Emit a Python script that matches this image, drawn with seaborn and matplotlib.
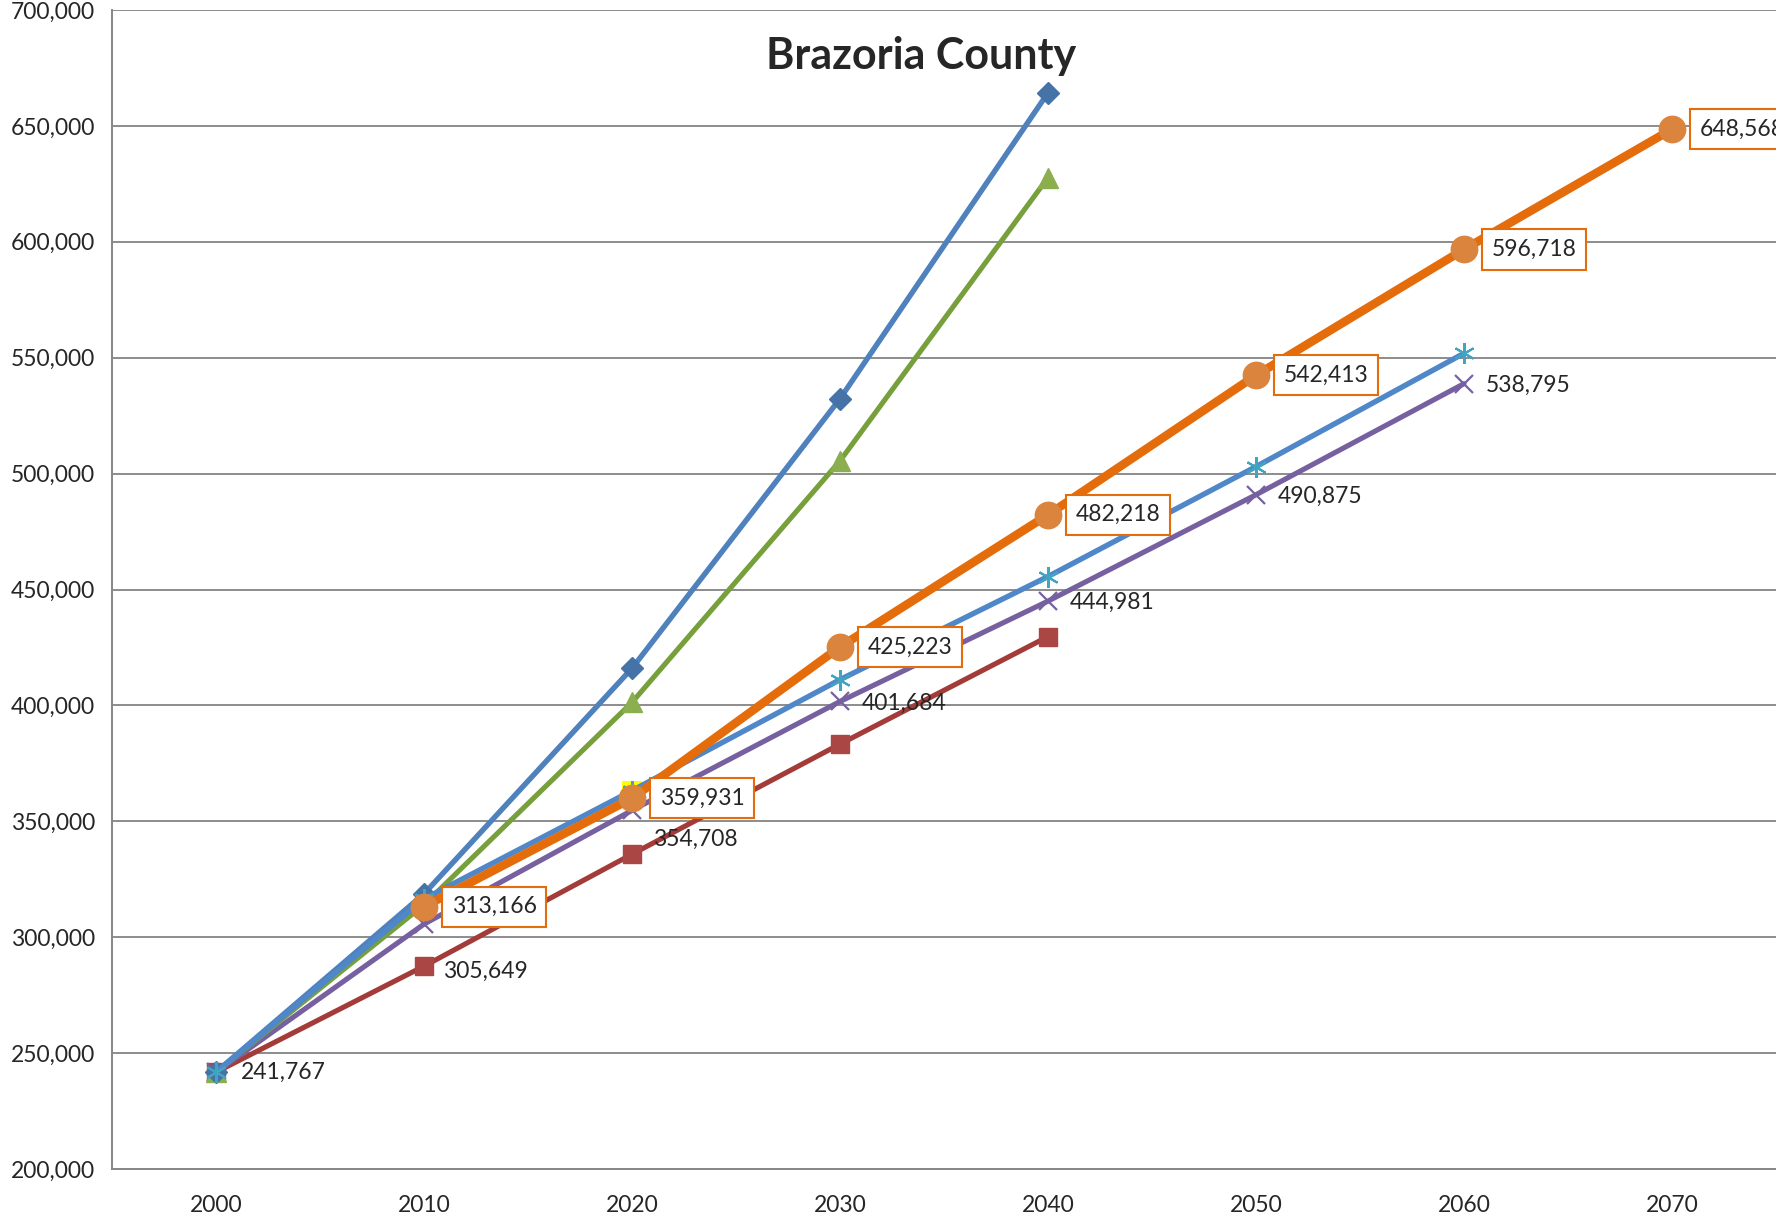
import numpy as np
import pandas as pd
import matplotlib
matplotlib.use("Agg")
import matplotlib.pyplot as plt
import seaborn as sns

years = [2000, 2010, 2020, 2030, 2040, 2050, 2060, 2070]
blue_vals = [241767, 318700, 416000, 532300, 664300]
green_vals = [241767, 314000, 401300, 505500, 627700]
red_vals = [241767, 287500, 335800, 383300, 429700]
purple_vals = [241767, 305649, 354708, 401684, 444981, 490875, 538795]
teal_vals = [241767, 316500, 363200, 411100, 455600, 503000, 551900]
orange_vals = [313166, 359931, 425223, 482218, 542413, 596718, 648568]
orange_start = 1
highlight_idx = [2]
highlight_vals = [363200]

sns.set_theme(style="white")
plt.rcParams['font.family'] = ['Lato', 'DejaVu Sans']

fig = plt.figure(figsize=(17.76, 12.2), dpi=100)
ax = fig.add_axes([112/1776, 1 - 1169/1220, 1 - 112/1776, (1169 - 10)/1220])

def draw(vals, start, color, mcolor, marker, ms, lw, mew=1.0, z=3, mfc=None):
    df = pd.DataFrame({"x": list(range(start, start + len(vals))), "y": vals})
    sns.lineplot(data=df, x="x", y="y", ax=ax, color=color, linewidth=lw, zorder=z,
                 marker=marker, markersize=ms, markerfacecolor=mfc if mfc else mcolor,
                 markeredgecolor=mcolor, markeredgewidth=mew, legend=False)

draw(red_vals, 0, "#A33B39", "#AA4643", "s", 13.5, 3.7, z=3)
draw(purple_vals, 0, "#7660A0", "#7660A0", "x", 13, 3.7, mew=1.6, z=3)
draw(green_vals, 0, "#77A03C", "#8BAE4F", "^", 15, 3.7, z=3)
draw(blue_vals, 0, "#4F81BD", "#4572A7", "D", 11, 3.9, z=4)
hdf = pd.DataFrame({"x": highlight_idx, "y": highlight_vals})
sns.scatterplot(data=hdf, x="x", y="y", ax=ax, marker="s", s=200, color="#FFFF00",
                edgecolor="none", zorder=4, legend=False)
draw(teal_vals, 0, "#4F87C8", "#3FA5C0", (6, 2, 0), 15, 3.9, mew=1.5, z=4)
draw(orange_vals, orange_start, "#E46C0A", "#DB843D", "o", 19, 6.2, z=6)

fs = 16.5
ax.annotate(f"{purple_vals[0]:,}", (0, purple_vals[0]), xytext=(18, 0), textcoords="offset points",
            ha="left", va="center", fontsize=fs, zorder=8)
purple_offsets = {1: (14, -34), 2: (15, -21)}
for i in range(1, len(purple_vals)):
    dx, dy = purple_offsets.get(i, (16, -1))
    ax.annotate(f"{purple_vals[i]:,}", (i, purple_vals[i]), xytext=(dx, dy), textcoords="offset points",
                ha="left", va="center", fontsize=fs, zorder=8)
for k, v in enumerate(orange_vals):
    i = orange_start + k
    ax.annotate(f"{v:,}", (i, v), xytext=(20, 0), textcoords="offset points",
                ha="left", va="center", fontsize=fs, zorder=9, annotation_clip=False,
                bbox=dict(boxstyle="square,pad=0.42", fc="white", ec="#E46C0A", lw=1.5))

ax.set_xlim(-0.5, 7.5)
ax.set_ylim(200000, 700000)
ax.set_yticks(np.arange(200000, 700001, 50000))
ax.set_yticklabels([f"{int(v):,}" for v in np.arange(200000, 700001, 50000)], fontsize=fs)
ax.set_xticks(range(len(years)))
ax.set_xticklabels([str(y) for y in years], fontsize=fs)
ax.set_xticks(np.arange(0.5, 7.6, 1.0), minor=True)
ax.tick_params(axis="x", which="major", length=0, pad=19)
ax.tick_params(axis="x", which="minor", length=8, width=1.3, color="#868686", direction="out")
ax.tick_params(axis="y", which="major", length=8, width=1.3, color="#868686", direction="out", pad=4)
ax.set_xlabel("")
ax.set_ylabel("")
ax.grid(axis="y", color="#8C8C8C", lw=1.4)
ax.set_axisbelow(True)
for s in ["top", "right"]:
    ax.spines[s].set_visible(False)
for s in ["left", "bottom"]:
    ax.spines[s].set_color("#868686")
    ax.spines[s].set_linewidth(1.4)

ax.text(0.486, 0.96, "Brazoria County", transform=ax.transAxes, ha="center", va="center",
        fontsize=31, fontweight="bold", zorder=10)

fig.savefig("out.png", dpi=100)
